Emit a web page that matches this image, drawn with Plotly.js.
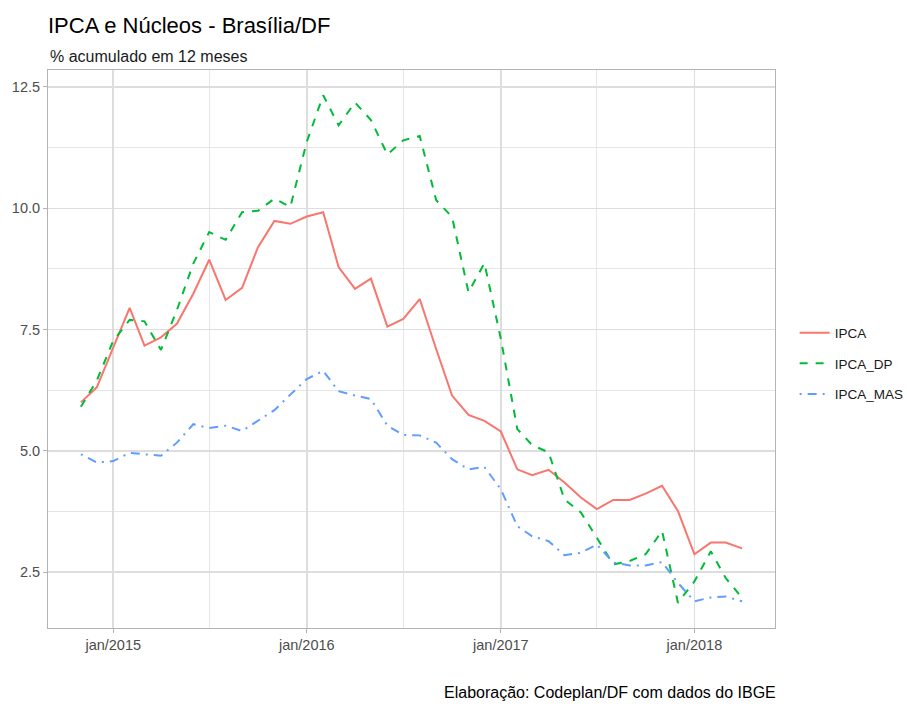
<!DOCTYPE html>
<html>
<head>
<meta charset="utf-8">
<script src="https://cdn.plot.ly/plotly-3.0.1.min.js"></script>
<style>html,body{margin:0;padding:0;background:#fff;}#chart{width:907px;height:704px;}</style>
</head>
<body>
<div id="chart"></div>
<script>
const months = ["2014-11-01","2014-12-01",
"2015-01-01","2015-02-01","2015-03-01","2015-04-01","2015-05-01","2015-06-01","2015-07-01","2015-08-01","2015-09-01","2015-10-01","2015-11-01","2015-12-01",
"2016-01-01","2016-02-01","2016-03-01","2016-04-01","2016-05-01","2016-06-01","2016-07-01","2016-08-01","2016-09-01","2016-10-01","2016-11-01","2016-12-01",
"2017-01-01","2017-02-01","2017-03-01","2017-04-01","2017-05-01","2017-06-01","2017-07-01","2017-08-01","2017-09-01","2017-10-01","2017-11-01","2017-12-01",
"2018-01-01","2018-02-01","2018-03-01","2018-04-01"];

const ipca = [6.00,6.31,
7.13,7.95,7.17,7.34,7.62,8.24,8.94,8.11,8.36,9.20,9.74,9.68,
9.83,9.92,8.79,8.34,8.55,7.56,7.72,8.13,7.10,6.14,5.74,5.62,
5.40,4.62,4.50,4.61,4.35,4.04,3.80,3.99,3.99,4.12,4.28,3.76,
2.87,3.11,3.11,2.99];

const ipcaDP = [5.91,6.45,
7.27,7.70,7.67,7.08,7.90,8.86,9.51,9.35,9.92,9.95,10.20,10.03,
11.37,12.33,11.71,12.18,11.82,11.11,11.40,11.49,10.17,9.82,8.27,8.87,
7.31,5.45,5.12,4.97,4.00,3.73,3.21,2.66,2.73,2.87,3.35,1.87,
2.31,2.93,2.38,1.97];

const ipcaMAS = [4.93,4.76,
4.79,4.96,4.93,4.90,5.17,5.55,5.47,5.52,5.41,5.62,5.84,6.16,
6.48,6.65,6.23,6.14,6.07,5.52,5.33,5.32,5.17,4.83,4.62,4.67,
4.21,3.45,3.24,3.14,2.85,2.90,3.07,2.70,2.64,2.64,2.71,2.28,
1.90,1.98,2.00,1.90];

const seriesNames = ["IPCA","IPCA_DP","IPCA_MAS"];
const xTickVals = ["2015-01-01","2016-01-01","2017-01-01","2018-01-01"];
const xTickText = ["jan/2015","jan/2016","jan/2017","jan/2018"];
const xMinorVals = ["2015-07-01","2016-07-01","2017-07-01"];
const yTickVals = [2.5,5.0,7.5,10.0,12.5];
const yMinorVals = [3.75,6.25,8.75,11.25];

const FONT = "Liberation Sans, Arial, sans-serif";

const traces = [
  {x: months, y: ipca, name: seriesNames[0], legendgroup: "a", type: "scatter", mode: "lines",
   line: {color: "#F8766D", width: 2, dash: "solid"}},
  {x: months, y: ipcaDP, name: seriesNames[1], legendgroup: "b", type: "scatter", mode: "lines",
   line: {color: "#00BA38", width: 2, dash: "8px,8px"}},
  {x: months, y: ipcaMAS, name: seriesNames[2], legendgroup: "c", type: "scatter", mode: "lines",
   line: {color: "#619CFF", width: 2, dash: "2px,6px,9px,6px"}}
];

const layout = {
  width: 907, height: 704,
  margin: {l: 48, r: 132, t: 70, b: 76, autoexpand: false},
  paper_bgcolor: "#ffffff", plot_bgcolor: "#ffffff",
  font: {family: FONT, color: "#4D4D4D", size: 14},
  title: {text: "IPCA e Núcleos - Brasília/DF", font: {family: FONT, size: 22, color: "#000000"},
          xref: "paper", x: 0, xanchor: "left", yref: "container", y: 1 - 25/704, yanchor: "middle"},
  xaxis: {
    type: "date", range: ["2014-08-31", "2018-06-02"],
    tickmode: "array", tickvals: xTickVals, ticktext: xTickText,
    ticks: "outside", ticklen: 4, tickcolor: "#B3B3B3", tickwidth: 1,
    showgrid: true, gridcolor: "#DDDDDD", gridwidth: 1.5,
    minor: {tickmode: "array", tickvals: xMinorVals, showgrid: true, gridcolor: "#E6E6E6", gridwidth: 1, ticks: ""},
    showline: true, linecolor: "#B3B3B3", linewidth: 1, mirror: true,
    zeroline: false, tickfont: {family: FONT, size: 14.5, color: "#4D4D4D"}
  },
  yaxis: {
    range: [1.35, 12.85],
    tickmode: "array", tickvals: yTickVals, tickformat: ".1f",
    ticks: "outside", ticklen: 4, tickcolor: "#B3B3B3", tickwidth: 1,
    showgrid: true, gridcolor: "#DDDDDD", gridwidth: 1.5,
    minor: {tickmode: "array", tickvals: yMinorVals, showgrid: true, gridcolor: "#E6E6E6", gridwidth: 1, ticks: ""},
    showline: true, linecolor: "#B3B3B3", linewidth: 1, mirror: true,
    zeroline: false, tickfont: {family: FONT, size: 14.5, color: "#4D4D4D"}
  },
  legend: {x: 1.027, xanchor: "left", y: 0.474, yanchor: "middle", tracegroupgap: 10,
           font: {family: FONT, size: 13.5, color: "#1a1a1a"}, bgcolor: "rgba(0,0,0,0)"},
  annotations: [
    {text: "% acumulado em 12 meses", xref: "paper", x: 0, xanchor: "left",
     yref: "paper", y: 1 + (70 - 57)/558, yanchor: "middle", showarrow: false,
     font: {family: FONT, size: 16, color: "#1a1a1a"}},
    {text: "Elaboração: Codeplan/DF com dados do IBGE", xref: "paper", x: 1, xanchor: "right", xshift: 3,
     yref: "paper", y: -(692 - 628)/558, yanchor: "middle", showarrow: false,
     font: {family: FONT, size: 16, color: "#000000"}}
  ],
  showlegend: true
};

Plotly.newPlot("chart", traces, layout, {displayModeBar: false, staticPlot: true});
</script>
</body>
</html>
